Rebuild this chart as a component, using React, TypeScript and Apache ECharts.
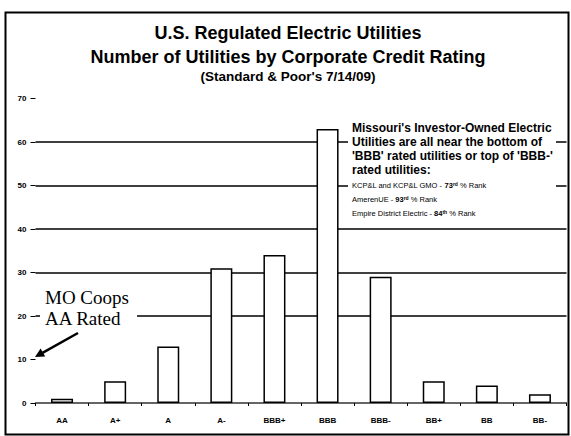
import React, { useEffect, useRef } from 'react';
import * as echarts from 'echarts';

const CATEGORIES = ['AA', 'A+', 'A', 'A-', 'BBB+', 'BBB', 'BBB-', 'BB+', 'BB', 'BB-'];
const UTILITY_COUNTS = [1, 5, 13, 31, 34, 63, 29, 5, 4, 2];
const Y_TICKS = [0, 10, 20, 30, 40, 50, 60, 70];
const GRID_VALUES = [20, 30, 40, 50, 60];

const TITLE = 'U.S. Regulated Electric Utilities';
const SUBTITLE = 'Number of Utilities by Corporate Credit Rating';
const SOURCE = "(Standard & Poor's 7/14/09)";
const COOPS_LINES = ['MO Coops', 'AA Rated'];
const NOTE_LINES = [
  "Missouri's Investor-Owned Electric",
  'Utilities are all near the bottom of',
  "'BBB' rated utilities or top of 'BBB-'",
  'rated utilities:',
];
const RANK_NAMES = ['KCP&L and KCP&L GMO', 'AmerenUE', 'Empire District Electric'];
const RANK_NUMBERS = ['73', '93', '84'];
const RANK_SUFFIXES = ['rd', 'rd', 'th'];

const SANS = '"Liberation Sans", Arial, sans-serif';
const SERIF = '"Liberation Serif", "Times New Roman", serif';

export default function App() {
  const ref = useRef<HTMLDivElement>(null);

  useEffect(() => {
    if (!ref.current) return;
    const chart = echarts.init(ref.current, undefined, { renderer: 'svg' });

    const splitColors = Y_TICKS.map((v) => (GRID_VALUES.includes(v) ? '#000' : 'rgba(0,0,0,0)'));

    const noteY0 = 128;
    const noteStep = 14;
    const rankY0 = 185;
    const rankStep = 14;

    const graphics: any[] = [
      {
        type: 'rect',
        z: 50,
        shape: { x: 5.5, y: 12.5, width: 563, height: 422 },
        style: { fill: 'none', stroke: '#000', lineWidth: 2 },
      },
      {
        type: 'text',
        z: 50,
        style: { text: TITLE, x: 288, y: 33, align: 'center', verticalAlign: 'middle', font: `bold 18px ${SANS}`, fill: '#000' },
      },
      {
        type: 'text',
        z: 50,
        style: { text: SUBTITLE, x: 288, y: 56.5, align: 'center', verticalAlign: 'middle', font: `bold 18px ${SANS}`, fill: '#000' },
      },
      {
        type: 'text',
        z: 50,
        style: { text: SOURCE, x: 288, y: 76.5, align: 'center', verticalAlign: 'middle', font: `bold 13.5px ${SANS}`, fill: '#000' },
      },
      // MO Coops annotation
      {
        type: 'rect',
        z: 40,
        shape: { x: 40, y: 284, width: 97, height: 46 },
        style: { fill: '#fff' },
      },
      ...COOPS_LINES.map((t, i) => ({
        type: 'text',
        z: 50,
        style: { text: t, x: 45, y: 297 + i * 21, align: 'left', verticalAlign: 'middle', font: `19px ${SERIF}`, fill: '#000' },
      })),
      {
        type: 'line',
        z: 50,
        shape: { x1: 78, y1: 333, x2: 42.5, y2: 352.8 },
        style: { stroke: '#000', lineWidth: 2.5 },
      },
      {
        type: 'polygon',
        z: 50,
        shape: { points: [[35, 357], [45.2, 356.4], [40.6, 348.4]] },
        style: { fill: '#000' },
      },
      // Missouri note box
      {
        type: 'rect',
        z: 40,
        shape: { x: 348, y: 118, width: 208, height: 103 },
        style: { fill: '#fff' },
      },
      ...NOTE_LINES.map((t, i) => ({
        type: 'text',
        z: 50,
        style: { text: t, x: 352, y: noteY0 + i * noteStep, align: 'left', verticalAlign: 'middle', font: `bold 12px ${SANS}`, fill: '#000' },
      })),
      ...RANK_NAMES.map((name, i) => ({
        type: 'text',
        z: 50,
        style: {
          text: `{t|${name} - }{n|${RANK_NUMBERS[i]}}{s|${RANK_SUFFIXES[i]}}{t| % Rank}`,
          x: 352,
          y: rankY0 + i * rankStep,
          align: 'left',
          verticalAlign: 'middle',
          fill: '#000',
          rich: {
            t: { fontSize: 7.5, fontFamily: SANS, fill: '#000', color: '#000', verticalAlign: 'bottom' },
            n: { fontSize: 7.5, fontFamily: SANS, fontWeight: 'bold', fill: '#000', color: '#000', verticalAlign: 'bottom' },
            s: { fontSize: 5, fontFamily: SANS, fontWeight: 'bold', fill: '#000', color: '#000', verticalAlign: 'top' },
          },
        },
      })),
    ];

    chart.setOption({
      animation: false,
      backgroundColor: '#fff',
      grid: { left: 35.5, right: 4.5, top: 98.5, bottom: 33, containLabel: false },
      xAxis: {
        type: 'category',
        data: CATEGORIES,
        boundaryGap: true,
        axisLine: { show: true, lineStyle: { color: '#333', width: 1.5 } },
        axisTick: { show: true, length: 3, lineStyle: { color: '#000', width: 1 } },
        axisLabel: { color: '#000', fontSize: 8, fontWeight: 'bold', fontFamily: SANS, margin: 13 },
        splitLine: { show: false },
      },
      yAxis: {
        type: 'value',
        min: Y_TICKS[0],
        max: Y_TICKS[Y_TICKS.length - 1],
        interval: Y_TICKS[1] - Y_TICKS[0],
        axisLine: { show: false },
        axisTick: { show: true, length: 5, lineStyle: { color: '#000', width: 1 } },
        axisLabel: { color: '#000', fontSize: 8, fontWeight: 'bold', fontFamily: SANS, margin: 9 },
        splitLine: { show: true, lineStyle: { color: splitColors, width: 1.5 } },
      },
      series: [
        {
          type: 'bar',
          data: UTILITY_COUNTS,
          barWidth: 22,
          itemStyle: { color: '#fff', borderColor: '#000', borderWidth: 1.5 },
        },
      ],
      graphic: { elements: graphics },
    });

    return () => chart.dispose();
  }, []);

  return (
    <div
      ref={ref}
      style={{ position: 'fixed', left: 0, top: 0, width: 571, height: 436, background: '#fff' }}
    />
  );
}
